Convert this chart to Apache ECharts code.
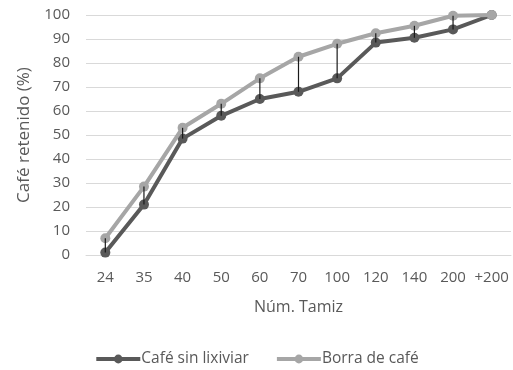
<!DOCTYPE html>
<html><head><meta charset="utf-8">
<script src="https://cdn.jsdelivr.net/npm/echarts@6/dist/echarts.min.js"></script>
<style>html,body{margin:0;padding:0;background:#fff}#c{width:513px;height:370px}</style>
</head><body><div id="c"></div>
<script>
const categories = ['24','35','40','50','60','70','100','120','140','200','+200'];
const sinLixiviar = [1, 21, 48.5, 58, 65, 68, 73.6, 88.5, 90.5, 94, 100];
const borra = [7, 28.5, 53, 63, 73.6, 82.6, 88, 92.4, 95.5, 99.7, 100];
const yTicks = [0, 100, 10];

const hiLo = categories.map((c, i) => [i, Math.min(sinLixiviar[i], borra[i]), Math.max(sinLixiviar[i], borra[i])]);
const font = 'Open Sans, Liberation Sans, sans-serif';
const chart = echarts.init(document.getElementById('c'), null, {renderer: 'canvas'});
chart.setOption({
  animation: false,
  grid: {left: 86, right: 2, top: 15, bottom: 115, containLabel: false},
  legend: {
    top: 346, left: 'center', itemWidth: 44, itemHeight: 11, itemGap: 26,
    lineStyle: {width: 4},
    textStyle: {color: '#595959', fontSize: 15.5, fontFamily: font, padding: [0,0,0,-4]},
    data: ['Café sin lixiviar', 'Borra de café']
  },
  xAxis: {
    type: 'category', data: categories, boundaryGap: true,
    name: 'Núm. Tamiz', nameLocation: 'middle', nameGap: 44,
    nameTextStyle: {color: '#595959', fontSize: 16, fontFamily: font},
    axisLine: {show: true, lineStyle: {color: '#d9d9d9'}},
    axisTick: {show: false},
    axisLabel: {color: '#595959', fontSize: 15, fontFamily: font, margin: 15, interval: 0}
  },
  yAxis: {
    type: 'value', min: yTicks[0], max: yTicks[1], interval: yTicks[2],
    name: 'Café retenido (%)', nameLocation: 'middle', nameGap: 53, nameRotate: 90,
    nameTextStyle: {color: '#595959', fontSize: 17, fontFamily: font},
    axisLine: {show: false}, axisTick: {show: false},
    splitLine: {lineStyle: {color: '#d9d9d9'}},
    axisLabel: {color: '#595959', fontSize: 15, fontFamily: font, margin: 16}
  },
  series: [
    {
      name: 'hilo', type: 'custom', data: hiLo, z: 4, silent: true,
      renderItem: function(params, api) {
        const p1 = api.coord([api.value(0), api.value(1)]);
        const p2 = api.coord([api.value(0), api.value(2)]);
        return {type: 'line', shape: {x1: p1[0], y1: p1[1], x2: p2[0], y2: p2[1]},
          style: {stroke: '#1a1a1a', lineWidth: 1.2}};
      }
    },
    {
      name: 'Café sin lixiviar', type: 'line', data: sinLixiviar, z: 2,
      symbol: 'circle', symbolSize: 10,
      lineStyle: {color: '#595959', width: 4},
      itemStyle: {color: '#595959'}
    },
    {
      name: 'Borra de café', type: 'line', data: borra, z: 3,
      symbol: 'circle', symbolSize: 10,
      lineStyle: {color: '#a6a6a6', width: 4},
      itemStyle: {color: '#a6a6a6'}
    }
  ]
});
</script></body></html>
